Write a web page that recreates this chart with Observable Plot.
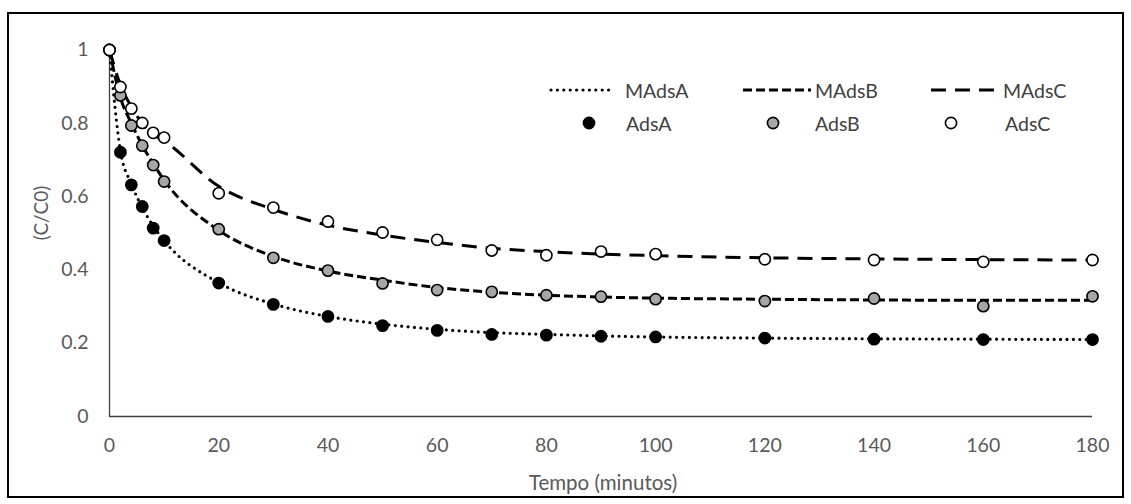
<!DOCTYPE html>
<html>
<head>
<meta charset="utf-8">
<script src="https://cdn.jsdelivr.net/npm/d3@7"></script>
<script src="https://cdn.jsdelivr.net/npm/@observablehq/plot@0.6"></script>
<style>
  html, body { margin: 0; padding: 0; background: #fff; }
  #wrap { position: relative; width: 1131px; height: 504px; overflow: hidden; font-family: Lato, "Open Sans", sans-serif; }
  #frame { position: absolute; left: 7px; top: 12px; width: 1117px; height: 486px; border: 2px solid #000; box-sizing: border-box; pointer-events: none; }
  #chart { position: absolute; left: 0; top: 0; }
  .title { position: absolute; color: #595959; white-space: nowrap; }
  #xtitle { left: 603px; top: 482px; transform: translate(-50%, -50%); font-size: 20.5px; }
  #ytitle { left: 40px; top: 213px; transform: translate(-50%, -50%) rotate(-90deg); font-size: 19px; }
  #legend { position: absolute; left: 0; top: 0; width: 1131px; height: 504px; pointer-events: none; }
  .leg { position: absolute; color: #404040; font-size: 19.5px; white-space: nowrap; transform: translateY(-50%); }
</style>
</head>
<body>
<div id="wrap">
  <div id="chart"></div>
  <div class="title" id="xtitle">Tempo (minutos)</div>
  <div class="title" id="ytitle">(C/C0)</div>
  <div id="legend"></div>
  <div id="frame"></div>
</div>
<script>
// ---- data ----
const time = [0, 2, 4, 6, 8, 10, 20, 30, 40, 50, 60, 70, 80, 90, 100, 120, 140, 160, 180];
const adsA = [1.0, 0.721, 0.632, 0.573, 0.514, 0.480, 0.364, 0.306, 0.273, 0.248, 0.235, 0.224, 0.222, 0.219, 0.217, 0.214, 0.211, 0.210, 0.210];
const adsB = [1.0, 0.876, 0.794, 0.739, 0.686, 0.641, 0.511, 0.433, 0.398, 0.363, 0.345, 0.340, 0.331, 0.327, 0.320, 0.315, 0.322, 0.301, 0.328];
const adsC = [1.0, 0.899, 0.840, 0.801, 0.774, 0.761, 0.609, 0.570, 0.532, 0.502, 0.482, 0.453, 0.440, 0.450, 0.443, 0.429, 0.427, 0.422, 0.427];
const mAdsA = [1.0, 0.725, 0.635, 0.570, 0.520, 0.480, 0.365, 0.307, 0.273, 0.252, 0.238, 0.229, 0.224, 0.220, 0.217, 0.214, 0.212, 0.211, 0.210];
const mAdsB = [1.0, 0.870, 0.800, 0.740, 0.690, 0.645, 0.508, 0.437, 0.397, 0.372, 0.352, 0.339, 0.331, 0.326, 0.323, 0.320, 0.318, 0.317, 0.317];
const mAdsC = [1.0, 0.905, 0.845, 0.800, 0.770, 0.752, 0.628, 0.565, 0.522, 0.495, 0.475, 0.459, 0.450, 0.443, 0.439, 0.433, 0.430, 0.428, 0.427];
const xTicks = [0, 20, 40, 60, 80, 100, 120, 140, 160, 180];
const yTicks = [0, 0.2, 0.4, 0.6, 0.8, 1];
const yTickLabels = ["0", "0.2", "0.4", "0.6", "0.8", "1"];
const seriesNames = ["AdsA", "AdsB", "AdsC"];
const modelNames = ["MAdsA", "MAdsB", "MAdsC"];

// ---- styles ----
const fills = ["#000000", "#a6a6a6", "#ffffff"];
const dashes = ["0,6.4", "9,4", "15,9"];
const caps = ["round", "butt", "butt"];
const widths = [3.2, 3, 3];

const toRows = (vals) => time.map((t, i) => ({t, v: vals[i]}));
const pts = [adsA, adsB, adsC].map(toRows);
const mdl = [mAdsA, mAdsB, mAdsC].map(toRows);

const font = "Lato, 'Open Sans', sans-serif";
const chart = Plot.plot({
  width: 1131,
  height: 504,
  marginLeft: 109,
  marginRight: 39,
  marginTop: 49.5,
  marginBottom: 88,
  style: {fontFamily: font, fontSize: "19.5px", color: "#595959", background: "transparent"},
  x: {domain: [0, 180]},
  y: {domain: [0, 1]},
  marks: [
    Plot.axisX({ticks: xTicks, tickSize: 0, tickPadding: 22, label: null, tickFormat: d => String(d)}),
    Plot.axisY({ticks: yTicks, tickSize: 0, tickPadding: 21, label: null, tickFormat: (d, i) => yTickLabels[i]}),
    Plot.ruleY([0], {x1: 0, x2: 180, stroke: "#404040", strokeWidth: 1.3}),
    Plot.ruleX([0], {y1: 0, y2: 1, stroke: "#404040", strokeWidth: 1.3}),
    ...mdl.map((rows, k) => Plot.line(rows, {x: "t", y: "v", curve: "monotone-x", stroke: "#000", strokeWidth: widths[k], strokeDasharray: dashes[k], strokeLinecap: caps[k]})),
    ...pts.map((rows, k) => Plot.dot(rows, {x: "t", y: "v", r: 5.6, fill: fills[k], stroke: "#000", strokeWidth: 1.6})),
  ]
});
document.getElementById("chart").appendChild(chart);

// ---- legend (HTML overlay) ----
const legend = document.getElementById("legend");
const lineRowY = 90, dotRowY = 123;
const lineSamples = [[551, 611, 625], [743, 811, 815], [931, 1000, 1003]];
const dotSamples = [[589, 626], [773, 815], [951, 1005]];
const ns = "http://www.w3.org/2000/svg";
const svg = document.createElementNS(ns, "svg");
svg.setAttribute("width", 1131); svg.setAttribute("height", 504);
svg.style.position = "absolute"; svg.style.left = "0"; svg.style.top = "0";
legend.appendChild(svg);
modelNames.forEach((name, k) => {
  const [x1, x2, tx] = lineSamples[k];
  const l = document.createElementNS(ns, "line");
  l.setAttribute("x1", x1); l.setAttribute("x2", x2);
  l.setAttribute("y1", lineRowY); l.setAttribute("y2", lineRowY);
  l.setAttribute("stroke", "#000"); l.setAttribute("stroke-width", widths[k]);
  l.setAttribute("stroke-dasharray", dashes[k]);
  l.setAttribute("stroke-linecap", caps[k]);
  svg.appendChild(l);
  const d = document.createElement("div");
  d.className = "leg"; d.textContent = name;
  d.style.left = tx + "px"; d.style.top = lineRowY + "px";
  legend.appendChild(d);
});
seriesNames.forEach((name, k) => {
  const [cx, tx] = dotSamples[k];
  const c = document.createElementNS(ns, "circle");
  c.setAttribute("cx", cx); c.setAttribute("cy", dotRowY); c.setAttribute("r", 5.6);
  c.setAttribute("fill", fills[k]); c.setAttribute("stroke", "#000"); c.setAttribute("stroke-width", 1.6);
  svg.appendChild(c);
  const d = document.createElement("div");
  d.className = "leg"; d.textContent = name;
  d.style.left = tx + "px"; d.style.top = dotRowY + "px";
  legend.appendChild(d);
});
</script>
</body>
</html>
